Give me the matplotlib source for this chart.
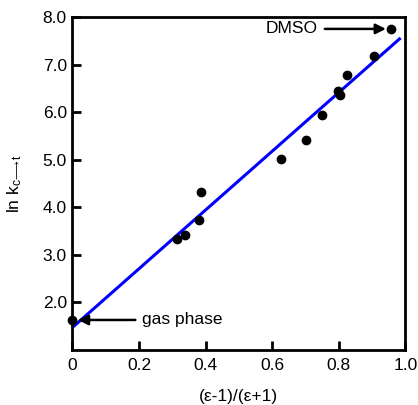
import matplotlib
matplotlib.use("Agg")
import matplotlib.pyplot as plt
import numpy as np

plt.rcParams['font.family'] = ['Liberation Sans', 'DejaVu Sans']
plt.rcParams['mathtext.fontset'] = 'custom'
plt.rcParams['mathtext.rm'] = 'Liberation Sans'
plt.rcParams['mathtext.it'] = 'Liberation Sans'

# Solvent polarity function vs ln k for the cis -> trans step
polarity = [0.0, 0.315, 0.337, 0.38, 0.385, 0.627, 0.70, 0.748, 0.799, 0.803, 0.825, 0.905, 0.958]
ln_k = [1.63, 3.34, 3.42, 3.74, 4.33, 5.02, 5.42, 5.94, 6.45, 6.36, 6.78, 7.18, 7.75]

# Linear fit line
fit_intercept = 1.47
fit_slope = 6.18
fit_x = [0.0, 0.982]

x_ticks = [0, 0.2, 0.4, 0.6, 0.8, 1.0]
x_tick_labels = ['0', '0.2', '0.4', '0.6', '0.8', '1.0']
y_ticks = [2.0, 3.0, 4.0, 5.0, 6.0, 7.0, 8.0]
y_tick_labels = ['2.0', '3.0', '4.0', '5.0', '6.0', '7.0', '8.0']

fig = plt.figure(figsize=(4.18, 4.05), dpi=100)
ax = fig.add_axes([0.173, 0.136, 0.797, 0.822])

fx = np.array(fit_x)
ax.plot(fx, fit_intercept + fit_slope * fx, color='#0000ff', lw=2.2, zorder=2)
ax.plot(polarity, ln_k, 'o', color='black', ms=6.0, zorder=3, clip_on=False)

ax.set_xlim(0, 1.0)
ax.set_ylim(1.0, 8.0)
ax.set_xticks(x_ticks)
ax.set_xticklabels(x_tick_labels)
ax.set_yticks(y_ticks)
ax.set_yticklabels(y_tick_labels)

for s in ax.spines.values():
    s.set_linewidth(2.0)
ax.tick_params(direction='in', length=6.5, width=2.0, labelsize=12.5)
ax.tick_params(axis='x', pad=6)
ax.tick_params(axis='y', pad=4)

ax.set_xlabel('(ε-1)/(ε+1)', fontsize=12.5, labelpad=11)
ax.set_ylabel(r'ln k$_{\mathrm{c}\!\longrightarrow\!\mathrm{t}}$', fontsize=12.5, labelpad=13)

arrow = dict(arrowstyle='-|>', color='black', lw=1.8, mutation_scale=15, shrinkA=3, shrinkB=4)
ax.annotate('DMSO', xy=(polarity[-1], ln_k[-1]), xytext=(0.737, ln_k[-1]),
            ha='right', va='center', fontsize=12.5, arrowprops=arrow)
ax.annotate('gas phase', xy=(polarity[0], ln_k[0]), xytext=(0.21, ln_k[0]),
            ha='left', va='center', fontsize=12.5, arrowprops=arrow)

fig.savefig('out.png', dpi=100)
